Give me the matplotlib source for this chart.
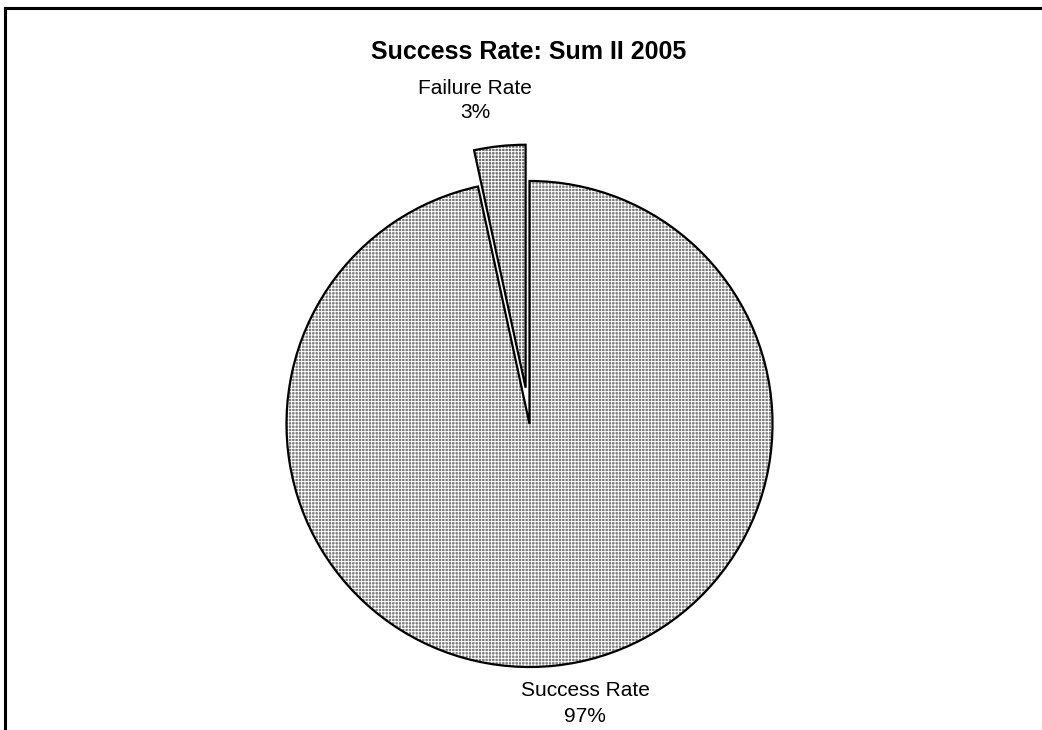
import matplotlib
matplotlib.use("Agg")
import matplotlib.pyplot as plt
from matplotlib.lines import Line2D

categories = ["Failure Rate", "Success Rate"]
values = [3.4, 96.6]
title = "Success Rate: Sum II 2005"

plt.rcParams['font.family'] = ['Liberation Sans', 'DejaVu Sans']
plt.rcParams['hatch.linewidth'] = 0.7

W, H = 1042, 730
fig = plt.figure(figsize=(W / 100, H / 100), dpi=100)
ax = fig.add_axes([0, 0, 1, 1])

cx, cy, r = 529.5, H - 424, 243
explode = [0.15 * r, 0]

# fill with hatch (white dots pattern)
ax.pie(values, startangle=90, counterclock=True, explode=explode,
       center=(cx, cy), radius=r, colors=['#6c6c6c', '#7a7a7a'],
       wedgeprops=dict(linewidth=0, edgecolor='white', hatch='+++++'),
       frame=True)
# outlines
ax.pie(values, startangle=90, counterclock=True, explode=explode,
       center=(cx, cy), radius=r, colors=['none', 'none'],
       wedgeprops=dict(linewidth=1.6, edgecolor='black', fill=False),
       frame=True)
ax.set_xlim(0, W)
ax.set_ylim(0, H)
ax.set_aspect('equal')
ax.axis('off')

total = sum(values)
pct = [f"{round(v / total * 100):.0f}%" for v in values]

ax.text(529, H - 52, title, ha='center', va='center', fontsize=18, fontweight='bold')
ax.text(475, H - 88, categories[0], ha='center', va='center', fontsize=15)
ax.text(475, H - 113, pct[0], ha='center', va='center', fontsize=15)
ax.text(585, H - 690, categories[1], ha='center', va='center', fontsize=15)
ax.text(585, H - 716, pct[1], ha='center', va='center', fontsize=15)

# chart frame (top and left edges visible)
fig.add_artist(Line2D([5 / W, 1], [1 - 8 / H, 1 - 8 / H], transform=fig.transFigure,
                      color='black', linewidth=2.2))
fig.add_artist(Line2D([5 / W, 5 / W], [0, 1 - 8 / H], transform=fig.transFigure,
                      color='black', linewidth=2.2))

fig.savefig("out.png", dpi=100)
